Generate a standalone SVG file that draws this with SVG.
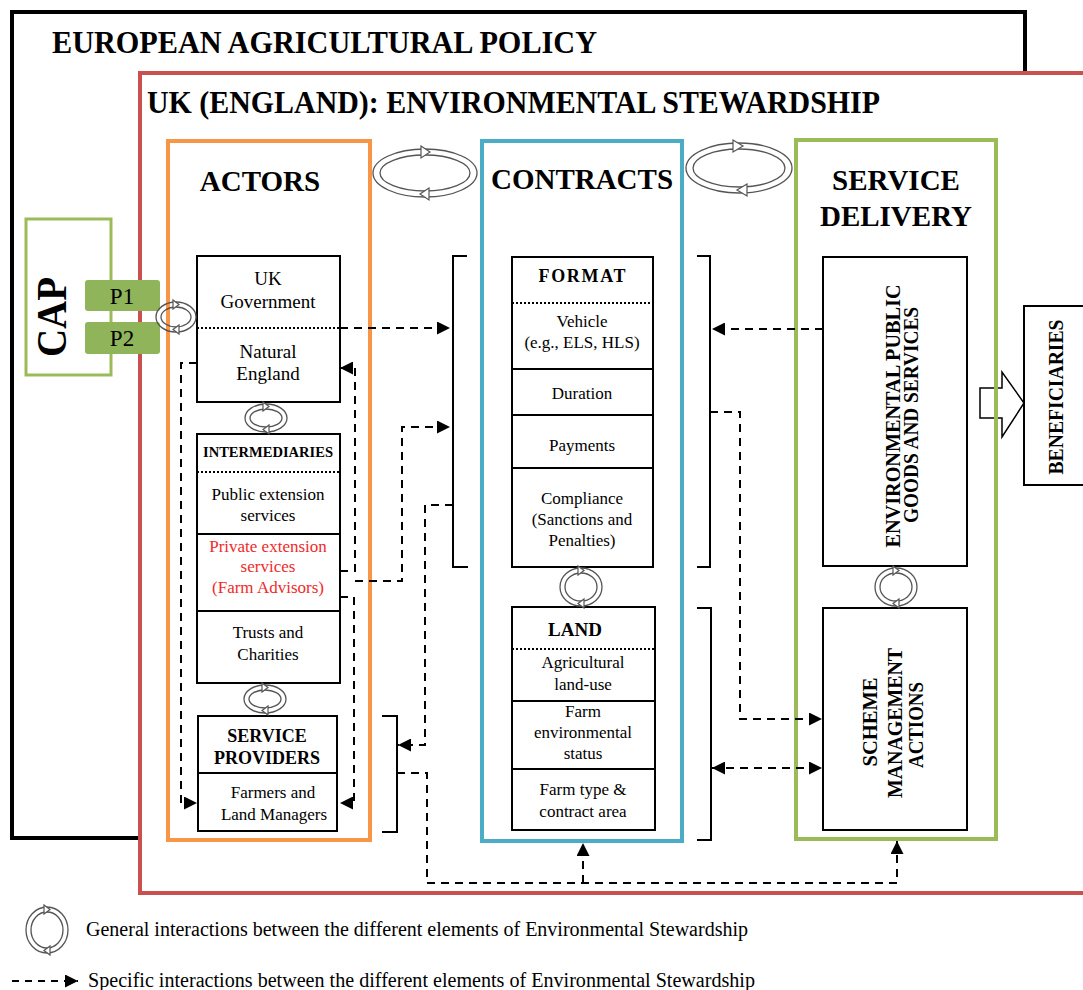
<svg xmlns="http://www.w3.org/2000/svg" width="1083" height="990" viewBox="0 0 1083 990">
<style>
text{font-family:"Liberation Serif","Times New Roman",serif;fill:#000}
.t{font-size:17px;text-anchor:middle}
.tb{font-size:18px;font-weight:bold;text-anchor:middle}
.h{font-size:29px;font-weight:bold;text-anchor:middle}
.v{font-size:21px;font-weight:bold;text-anchor:middle}
.box{fill:#fff;stroke:#000;stroke-width:2}
.ln{stroke:#000;stroke-width:2;fill:none}
.dot{stroke:#000;stroke-width:2;stroke-dasharray:2 2;fill:none}
.dash{stroke:#000;stroke-width:2;stroke-dasharray:8 6;fill:none}
.arr{marker-end:url(#ah)}
.cyc ellipse{fill:none;stroke:#555;stroke-width:1.3}
.cyc path{fill:#fff;stroke:#555;stroke-width:1.2}
</style>
<defs>
<marker id="ah" viewBox="0 0 10 10" refX="10" refY="5" markerWidth="14" markerHeight="13" markerUnits="userSpaceOnUse" orient="auto-start-reverse"><path d="M0,0 L10,5 L0,10 z" fill="#000"/></marker>
</defs>
<rect width="1083" height="990" fill="#fff"/>

<!-- outer frames -->
<g id="eap">
<rect x="12" y="12" width="1013" height="826" fill="none" stroke="#000" stroke-width="4"/>
<text x="52" y="53" font-size="31" font-weight="bold" textLength="545" lengthAdjust="spacingAndGlyphs">EUROPEAN AGRICULTURAL POLICY</text>
</g>
<g id="cap">
<rect x="26" y="219" width="85" height="156" fill="#fff" stroke="#9bbb59" stroke-width="3"/>
<text transform="translate(66,317) rotate(-90)" font-size="42" font-weight="bold" text-anchor="middle" textLength="80" lengthAdjust="spacingAndGlyphs">CAP</text>
</g>
<g id="uk">
<rect x="140" y="73" width="960" height="820" fill="#fff" stroke="#c9504f" stroke-width="4"/>
<text x="147" y="113" font-size="31" font-weight="bold" textLength="733" lengthAdjust="spacingAndGlyphs">UK (ENGLAND): ENVIRONMENTAL STEWARDSHIP</text>
</g>
<g id="p1">
<rect x="85" y="280" width="75" height="31" rx="3" fill="#8fb45a"/>
<text x="122" y="304" font-size="23" text-anchor="middle">P1</text>
</g>
<g id="p2">
<rect x="85" y="322" width="75" height="32" rx="3" fill="#8fb45a"/>
<text x="122" y="346" font-size="23" text-anchor="middle">P2</text>
</g>

<!-- beneficiaries arrow -->
<path d="M980,388 H1002 V372 L1024,403 L1002,437 V418 H980 Z" fill="#fff" stroke="#000" stroke-width="1.5"/>

<!-- columns -->
<g id="actors">
<rect x="168" y="141" width="202" height="699" fill="none" stroke="#f79646" stroke-width="4"/>
<text class="h" x="260" y="191">ACTORS</text>
</g>
<g id="contracts">
<rect x="482" y="141" width="200" height="700" fill="none" stroke="#4bacc6" stroke-width="4"/>
<text class="h" x="582" y="189">CONTRACTS</text>
</g>
<g id="service-delivery">
<rect x="796" y="140" width="200" height="699" fill="none" stroke="#9bbb59" stroke-width="4"/>
<text class="h" x="896" y="190">SERVICE</text>
<text class="h" x="896" y="226">DELIVERY</text>
</g>

<!-- actor boxes -->
<g id="ukgov">
<rect class="box" x="197" y="256" width="143" height="146"/>
<line class="dot" x1="197" y1="328" x2="340" y2="328"/>
<text x="268" y="285" font-size="19" text-anchor="middle">UK</text>
<text x="268" y="308" font-size="19" text-anchor="middle">Government</text>
<text x="268" y="358" font-size="19" text-anchor="middle">Natural</text>
<text x="268" y="380" font-size="19" text-anchor="middle">England</text>
</g>
<g id="intermediaries">
<rect class="box" x="197" y="434" width="143" height="177"/>
<line class="dot" x1="197" y1="472" x2="340" y2="472"/>
<line class="ln" x1="197" y1="534" x2="340" y2="534"/>
<text x="268" y="457" font-size="14" font-weight="bold" text-anchor="middle" textLength="130" lengthAdjust="spacingAndGlyphs">INTERMEDIARIES</text>
<text class="t" x="268" y="500">Public extension</text>
<text class="t" x="268" y="521">services</text>
<text class="t" x="268" y="552" style="fill:#f02a2a">Private extension</text>
<text class="t" x="268" y="572" style="fill:#f02a2a">services</text>
<text class="t" x="268" y="593" style="fill:#f02a2a">(Farm Advisors)</text>
</g>
<g id="trusts">
<rect class="box" x="197" y="611" width="143" height="72"/>
<text class="t" x="268" y="638">Trusts and</text>
<text class="t" x="268" y="660">Charities</text>
</g>
<g id="providers">
<rect class="box" x="198" y="716" width="139" height="115"/>
<line class="ln" x1="198" y1="773" x2="337" y2="773"/>
<text class="tb" x="267" y="742">SERVICE</text>
<text class="tb" x="267" y="764">PROVIDERS</text>
<text class="t" x="273" y="798">Farmers and</text>
<text class="t" x="274" y="820">Land Managers</text>
</g>

<!-- contract boxes -->
<g id="format">
<rect class="box" x="512" y="257" width="141" height="310"/>
<line class="dot" x1="512" y1="303" x2="653" y2="303"/>
<line class="ln" x1="512" y1="369" x2="653" y2="369"/>
<line class="ln" x1="512" y1="415" x2="653" y2="415"/>
<line class="ln" x1="512" y1="468" x2="653" y2="468"/>
<text class="tb" x="582" y="282" textLength="87" lengthAdjust="spacing">FORMAT</text>
<text class="t" x="582" y="327">Vehicle</text>
<text class="t" x="582" y="348">(e.g., ELS, HLS)</text>
<text class="t" x="582" y="399">Duration</text>
<text class="t" x="582" y="451">Payments</text>
<text class="t" x="582" y="504">Compliance</text>
<text class="t" x="582" y="525">(Sanctions and</text>
<text class="t" x="582" y="546">Penalties)</text>
</g>
<g id="land">
<rect class="box" x="512" y="607" width="143" height="223"/>
<line class="dot" x1="512" y1="649" x2="655" y2="649"/>
<line class="ln" x1="512" y1="701" x2="655" y2="701"/>
<line class="ln" x1="512" y1="769" x2="655" y2="769"/>
<text x="575" y="636" font-size="19" font-weight="bold" text-anchor="middle">LAND</text>
<text class="t" x="583" y="668">Agricultural</text>
<text class="t" x="583" y="690">land-use</text>
<text class="t" x="583" y="717">Farm</text>
<text class="t" x="583" y="738">environmental</text>
<text class="t" x="583" y="759">status</text>
<text class="t" x="583" y="795">Farm type &amp;</text>
<text class="t" x="583" y="817">contract area</text>
</g>

<!-- service boxes -->
<g id="env-goods">
<rect class="box" x="823" y="257" width="144" height="309"/>
<text class="v" transform="translate(900,416) rotate(-90)" textLength="263" lengthAdjust="spacingAndGlyphs">ENVIRONMENTAL  PUBLIC</text>
<text class="v" transform="translate(918,415) rotate(-90)" textLength="216" lengthAdjust="spacingAndGlyphs">GOODS AND SERVICES</text>
</g>
<g id="scheme">
<rect class="box" x="823" y="608" width="144" height="222"/>
<text class="v" transform="translate(877,722) rotate(-90)" textLength="89" lengthAdjust="spacingAndGlyphs">SCHEME</text>
<text class="v" transform="translate(902,723) rotate(-90)" textLength="150" lengthAdjust="spacingAndGlyphs">MANAGEMENT</text>
<text class="v" transform="translate(923,725) rotate(-90)" textLength="86" lengthAdjust="spacingAndGlyphs">ACTIONS</text>
</g>
<g id="beneficiaries">
<rect class="box" x="1024" y="306" width="70" height="179"/>
<text class="v" transform="translate(1063,397) rotate(-90)" textLength="155" lengthAdjust="spacingAndGlyphs">BENEFICIARIES</text>
</g>

<!-- connectors -->
<g id="connectors">
<path class="ln" d="M467,256 H453 V567 H468"/>
<path class="ln" d="M697,256 H710 V567 H697"/>
<path class="ln" d="M697,608 H711 V840 H697"/>
<path class="ln" d="M382,716 H397 V832 H382"/>
<path class="dash arr" d="M340,328 H450"/>
<path class="dash arr" d="M197,363 H181 V803 H197"/>
<path class="dash arr" d="M340,571 H355 V368 H340"/>
<path class="dash arr" d="M340,597 H354 V803 H340"/>
<path class="dash arr" d="M355,581 H402 V427 H450"/>
<path class="dash arr" d="M453,505 H425 V745 H398"/>
<path class="dash arr" d="M823,329 H712"/>
<path class="dash arr" d="M710,412 H740 V719 H822"/>
<path class="dash arr" d="M712,768 H822" style="marker-start:url(#ah)"/>
<path class="dash arr" d="M397,773 H427 V883 H897 V841"/>
<path class="dash arr" d="M583,883 V843"/>
</g>

<!-- general interaction cycles -->
<g class="cyc" id="cycle-ac" transform="translate(425,173)">
<ellipse rx="52" ry="24"/><ellipse rx="45" ry="18"/>
<path d="M-4,-27 L5,-21 L-4,-15 Z"/><path d="M4,15 L-5,21 L4,27 Z"/>
</g>
<g class="cyc" id="cycle-cs" transform="translate(739,168)">
<ellipse rx="53" ry="25"/><ellipse rx="46" ry="19"/>
<path d="M-6,-28 L4,-22 L-6,-16 Z"/><path d="M8,16 L-2,22 L8,28 Z"/>
</g>
<g class="cyc" transform="translate(176,317)">
<ellipse rx="20" ry="15"/><ellipse rx="15" ry="10"/>
<path d="M-3,-17 L3,-12.5 L-3,-8 Z"/><path d="M3,8 L-3,12.5 L3,17 Z"/>
</g>
<g class="cyc" transform="translate(266,418)">
<ellipse rx="21" ry="14"/><ellipse rx="16" ry="9"/>
<path d="M-3,-16 L3,-11.5 L-3,-7 Z"/><path d="M3,7 L-3,11.5 L3,16 Z"/>
</g>
<g class="cyc" transform="translate(265,699)">
<ellipse rx="21" ry="14"/><ellipse rx="16" ry="9"/>
<path d="M-3,-16 L3,-11.5 L-3,-7 Z"/><path d="M3,7 L-3,11.5 L3,16 Z"/>
</g>
<g class="cyc" transform="translate(581,587)">
<ellipse rx="21" ry="19"/><ellipse rx="16" ry="14"/>
<path d="M-3,-21 L3,-16.5 L-3,-12 Z"/><path d="M3,12 L-3,16.5 L3,21 Z"/>
</g>
<g class="cyc" transform="translate(896,587)">
<ellipse rx="21" ry="19"/><ellipse rx="16" ry="14"/>
<path d="M-3,-21 L3,-16.5 L-3,-12 Z"/><path d="M3,12 L-3,16.5 L3,21 Z"/>
</g>

<!-- legend -->
<g id="legend">
<g class="cyc" transform="translate(47,930)">
<ellipse rx="21" ry="23"/><ellipse rx="16" ry="18"/>
<path d="M-3,-25 L3,-20.5 L-3,-16 Z"/><path d="M3,16 L-3,20.5 L3,25 Z"/>
</g>
<text x="86" y="936" font-size="20" textLength="662" lengthAdjust="spacingAndGlyphs">General interactions between the different elements of Environmental Stewardship</text>
<path class="dash arr" d="M12,981 H78" style="stroke-dasharray:7 6"/>
<text x="88" y="987" font-size="20" textLength="667" lengthAdjust="spacingAndGlyphs">Specific interactions between the different elements of Environmental Stewardship</text>
</g>
</svg>
